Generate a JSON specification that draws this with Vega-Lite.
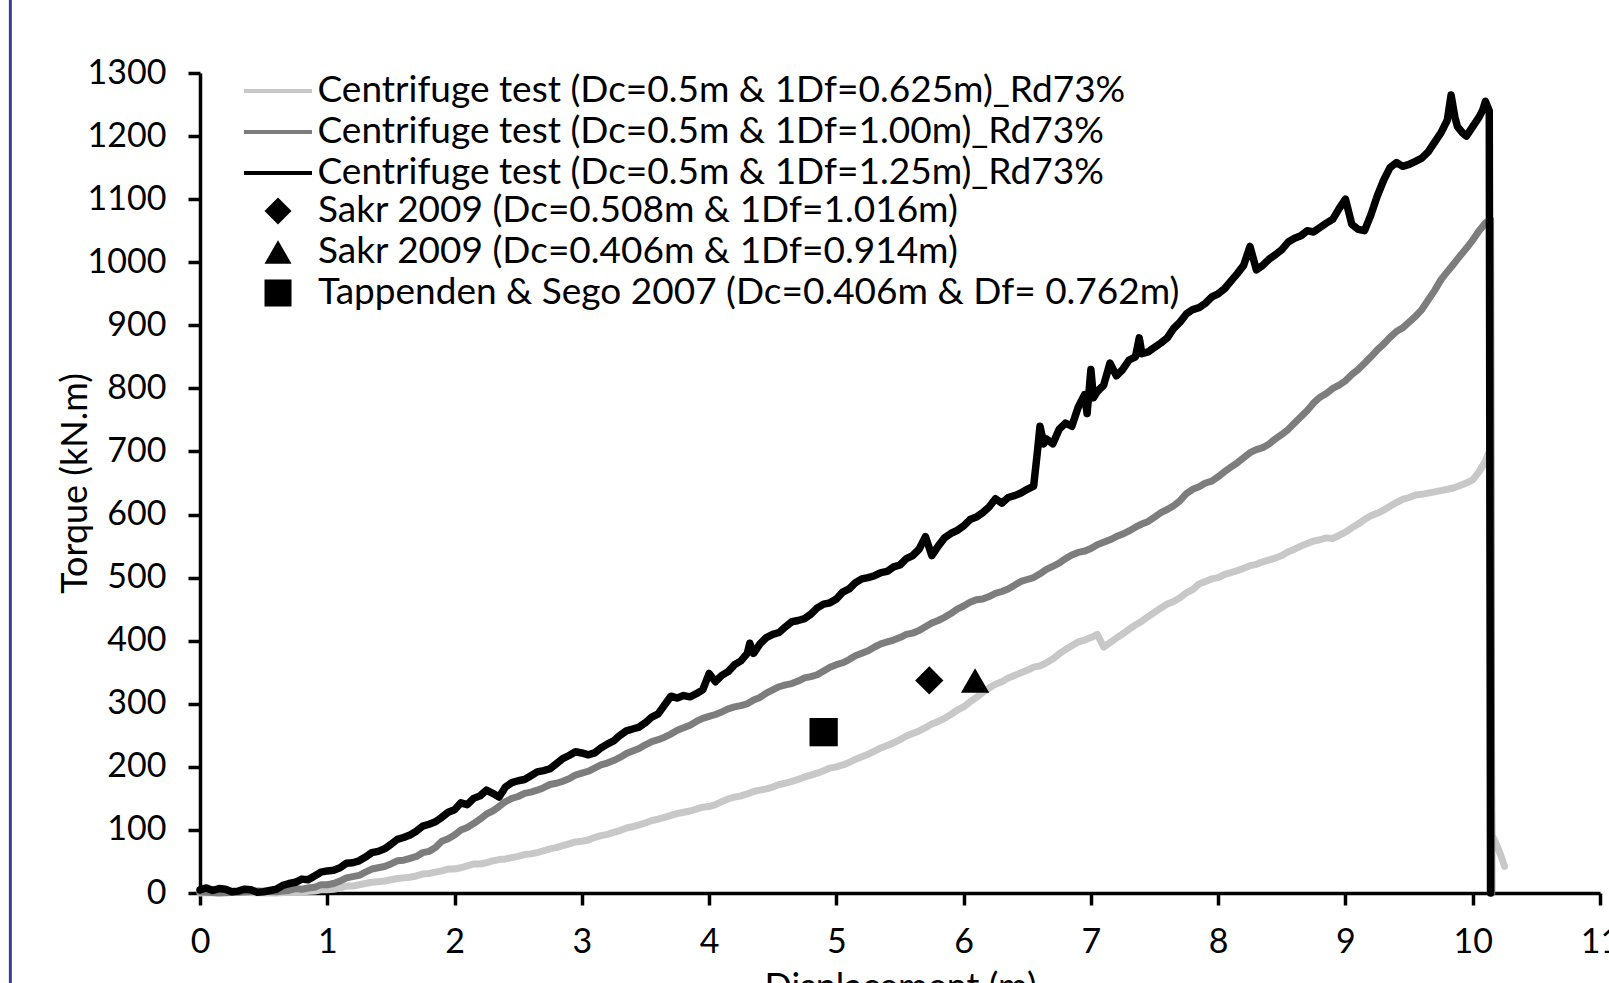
{
 "$schema": "https://vega.github.io/schema/vega-lite/v6.json",
 "width": 1400,
 "height": 820,
 "autosize": {"type": "none"},
 "padding": {"left": 200, "top": 73, "right": 9, "bottom": 90},
 "background": "white",
 "config": {
  "view": {"stroke": null},
  "font": "Lato",
  "axis": {"domainColor": "black", "domainWidth": 3.5, "tickColor": "black", "tickWidth": 3.5, "tickSize": 12, "labelFont": "Lato", "labelFontSize": 34, "labelColor": "black", "titleFont": "Lato", "titleFontSize": 36, "titleFontWeight": "normal", "titleColor": "black", "grid": false},
  "legend": {"labelFont": "Lato", "labelColor": "black", "labelFontSize": 37, "labelLimit": 1300, "padding": 0, "direction": "vertical"}
 },
 "datasets": {
  "light": [
   {"d":0,"t":0},{"d":0.3,"t":1},{"d":0.6,"t":0},{"d":0.7,"t":1},{"d":0.8,"t":2},{"d":0.9,"t":3},{"d":0.95,"t":5},{"d":1.0,"t":5},{"d":1.05,"t":6},{"d":1.1,"t":8},{"d":1.15,"t":11},{"d":1.2,"t":11},{"d":1.25,"t":13},{"d":1.3,"t":15},{"d":1.35,"t":17},{"d":1.4,"t":18},{"d":1.45,"t":19},{"d":1.5,"t":21},{"d":1.55,"t":23},{"d":1.6,"t":24},{"d":1.65,"t":25},{"d":1.7,"t":27},{"d":1.75,"t":30},{"d":1.8,"t":31},{"d":1.85,"t":33},{"d":1.9,"t":35},{"d":1.95,"t":38},{"d":2.0,"t":38},{"d":2.05,"t":40},{"d":2.1,"t":43},{"d":2.15,"t":46},{"d":2.2,"t":46},{"d":2.25,"t":48},{"d":2.3,"t":51},{"d":2.35,"t":53},{"d":2.4,"t":54},{"d":2.45,"t":56},{"d":2.5,"t":58},{"d":2.55,"t":61},{"d":2.6,"t":62},{"d":2.65,"t":64},{"d":2.7,"t":67},{"d":2.75,"t":70},{"d":2.8,"t":72},{"d":2.85,"t":75},{"d":2.9,"t":78},{"d":2.95,"t":81},{"d":3.0,"t":82},{"d":3.05,"t":84},{"d":3.1,"t":88},{"d":3.15,"t":91},{"d":3.2,"t":93},{"d":3.25,"t":96},{"d":3.3,"t":99},{"d":3.35,"t":103},{"d":3.4,"t":105},{"d":3.45,"t":108},{"d":3.5,"t":111},{"d":3.55,"t":115},{"d":3.6,"t":117},{"d":3.65,"t":120},{"d":3.7,"t":123},{"d":3.75,"t":126},{"d":3.8,"t":128},{"d":3.85,"t":130},{"d":3.9,"t":133},{"d":3.95,"t":136},{"d":4.0,"t":137},{"d":4.05,"t":140},{"d":4.1,"t":145},{"d":4.15,"t":149},{"d":4.2,"t":152},{"d":4.25,"t":154},{"d":4.3,"t":157},{"d":4.35,"t":161},{"d":4.4,"t":163},{"d":4.45,"t":165},{"d":4.5,"t":168},{"d":4.55,"t":172},{"d":4.6,"t":174},{"d":4.65,"t":177},{"d":4.7,"t":180},{"d":4.75,"t":184},{"d":4.8,"t":187},{"d":4.85,"t":190},{"d":4.9,"t":194},{"d":4.95,"t":198},{"d":5.0,"t":200},{"d":5.05,"t":203},{"d":5.1,"t":207},{"d":5.15,"t":212},{"d":5.2,"t":216},{"d":5.25,"t":220},{"d":5.3,"t":225},{"d":5.35,"t":230},{"d":5.4,"t":234},{"d":5.45,"t":238},{"d":5.5,"t":243},{"d":5.55,"t":249},{"d":5.6,"t":253},{"d":5.65,"t":257},{"d":5.7,"t":262},{"d":5.75,"t":268},{"d":5.8,"t":272},{"d":5.85,"t":277},{"d":5.9,"t":283},{"d":5.95,"t":290},{"d":6.0,"t":295},{"d":6.05,"t":303},{"d":6.1,"t":310},{"d":6.15,"t":318},{"d":6.2,"t":325},{"d":6.25,"t":331},{"d":6.3,"t":335},{"d":6.35,"t":341},{"d":6.4,"t":345},{"d":6.45,"t":349},{"d":6.5,"t":353},{"d":6.55,"t":358},{"d":6.6,"t":360},{"d":6.65,"t":365},{"d":6.7,"t":371},{"d":6.75,"t":379},{"d":6.8,"t":386},{"d":6.85,"t":392},{"d":6.9,"t":398},{"d":6.95,"t":401},{"d":7.0,"t":405},{"d":7.05,"t":410},{"d":7.1,"t":390},{"d":7.15,"t":397},{"d":7.2,"t":404},{"d":7.25,"t":411},{"d":7.3,"t":418},{"d":7.35,"t":425},{"d":7.4,"t":431},{"d":7.45,"t":438},{"d":7.5,"t":445},{"d":7.55,"t":452},{"d":7.6,"t":458},{"d":7.65,"t":462},{"d":7.7,"t":468},{"d":7.75,"t":476},{"d":7.8,"t":481},{"d":7.85,"t":490},{"d":7.9,"t":494},{"d":7.95,"t":498},{"d":8.0,"t":500},{"d":8.05,"t":505},{"d":8.1,"t":508},{"d":8.15,"t":511},{"d":8.2,"t":515},{"d":8.25,"t":519},{"d":8.3,"t":521},{"d":8.35,"t":525},{"d":8.4,"t":528},{"d":8.45,"t":531},{"d":8.5,"t":535},{"d":8.55,"t":541},{"d":8.6,"t":545},{"d":8.65,"t":550},{"d":8.7,"t":554},{"d":8.75,"t":558},{"d":8.8,"t":560},{"d":8.85,"t":563},{"d":8.9,"t":562},{"d":8.95,"t":567},{"d":9.0,"t":572},{"d":9.05,"t":579},{"d":9.1,"t":585},{"d":9.15,"t":592},{"d":9.2,"t":598},{"d":9.25,"t":602},{"d":9.3,"t":607},{"d":9.35,"t":613},{"d":9.4,"t":619},{"d":9.45,"t":624},{"d":9.5,"t":627},{"d":9.55,"t":631},{"d":9.6,"t":632},{"d":9.65,"t":634},{"d":9.7,"t":636},{"d":9.75,"t":638},{"d":9.8,"t":640},{"d":9.85,"t":642},{"d":9.9,"t":646},{"d":9.95,"t":650},{"d":10.0,"t":655},{"d":10.05,"t":668},{"d":10.1,"t":685},{"d":10.13,"t":700},{"d":10.15,"t":92},{"d":10.18,"t":80},{"d":10.22,"t":60},{"d":10.25,"t":42}
  ],
  "gray": [
   {"d":0,"t":2},{"d":0.15,"t":0},{"d":0.3,"t":1},{"d":0.45,"t":3},{"d":0.6,"t":2},{"d":0.65,"t":3},{"d":0.7,"t":4},{"d":0.75,"t":7},{"d":0.8,"t":6},{"d":0.85,"t":8},{"d":0.9,"t":9},{"d":0.95,"t":13},{"d":1.0,"t":13},{"d":1.05,"t":15},{"d":1.1,"t":19},{"d":1.15,"t":24},{"d":1.2,"t":26},{"d":1.25,"t":28},{"d":1.3,"t":33},{"d":1.35,"t":38},{"d":1.4,"t":40},{"d":1.45,"t":42},{"d":1.5,"t":46},{"d":1.55,"t":51},{"d":1.6,"t":52},{"d":1.65,"t":55},{"d":1.7,"t":58},{"d":1.75,"t":64},{"d":1.8,"t":66},{"d":1.85,"t":72},{"d":1.9,"t":82},{"d":1.95,"t":86},{"d":2.0,"t":92},{"d":2.05,"t":100},{"d":2.1,"t":104},{"d":2.15,"t":110},{"d":2.2,"t":117},{"d":2.25,"t":125},{"d":2.3,"t":130},{"d":2.35,"t":137},{"d":2.4,"t":145},{"d":2.45,"t":150},{"d":2.5,"t":153},{"d":2.55,"t":158},{"d":2.6,"t":160},{"d":2.65,"t":163},{"d":2.7,"t":167},{"d":2.75,"t":172},{"d":2.8,"t":174},{"d":2.85,"t":177},{"d":2.9,"t":181},{"d":2.95,"t":187},{"d":3.0,"t":190},{"d":3.05,"t":193},{"d":3.1,"t":198},{"d":3.15,"t":203},{"d":3.2,"t":206},{"d":3.25,"t":210},{"d":3.3,"t":215},{"d":3.35,"t":221},{"d":3.4,"t":225},{"d":3.45,"t":229},{"d":3.5,"t":235},{"d":3.55,"t":240},{"d":3.6,"t":243},{"d":3.65,"t":247},{"d":3.7,"t":252},{"d":3.75,"t":258},{"d":3.8,"t":262},{"d":3.85,"t":266},{"d":3.9,"t":272},{"d":3.95,"t":277},{"d":4.0,"t":280},{"d":4.05,"t":283},{"d":4.1,"t":287},{"d":4.15,"t":292},{"d":4.2,"t":295},{"d":4.25,"t":297},{"d":4.3,"t":300},{"d":4.35,"t":306},{"d":4.4,"t":310},{"d":4.45,"t":317},{"d":4.5,"t":322},{"d":4.55,"t":327},{"d":4.6,"t":330},{"d":4.65,"t":332},{"d":4.7,"t":336},{"d":4.75,"t":341},{"d":4.8,"t":343},{"d":4.85,"t":346},{"d":4.9,"t":352},{"d":4.95,"t":358},{"d":5.0,"t":362},{"d":5.05,"t":365},{"d":5.1,"t":370},{"d":5.15,"t":376},{"d":5.2,"t":380},{"d":5.25,"t":384},{"d":5.3,"t":390},{"d":5.35,"t":395},{"d":5.4,"t":398},{"d":5.45,"t":401},{"d":5.5,"t":405},{"d":5.55,"t":410},{"d":5.6,"t":412},{"d":5.65,"t":416},{"d":5.7,"t":422},{"d":5.75,"t":428},{"d":5.8,"t":432},{"d":5.85,"t":437},{"d":5.9,"t":443},{"d":5.95,"t":450},{"d":6.0,"t":455},{"d":6.05,"t":461},{"d":6.1,"t":465},{"d":6.15,"t":466},{"d":6.2,"t":470},{"d":6.25,"t":475},{"d":6.3,"t":478},{"d":6.35,"t":482},{"d":6.4,"t":488},{"d":6.45,"t":494},{"d":6.5,"t":497},{"d":6.55,"t":500},{"d":6.6,"t":506},{"d":6.65,"t":513},{"d":6.7,"t":518},{"d":6.75,"t":523},{"d":6.8,"t":530},{"d":6.85,"t":536},{"d":6.9,"t":540},{"d":6.95,"t":542},{"d":7.0,"t":546},{"d":7.05,"t":552},{"d":7.1,"t":556},{"d":7.15,"t":560},{"d":7.2,"t":565},{"d":7.25,"t":569},{"d":7.3,"t":574},{"d":7.35,"t":580},{"d":7.4,"t":585},{"d":7.45,"t":589},{"d":7.5,"t":596},{"d":7.55,"t":603},{"d":7.6,"t":608},{"d":7.65,"t":614},{"d":7.7,"t":622},{"d":7.75,"t":633},{"d":7.8,"t":640},{"d":7.85,"t":644},{"d":7.9,"t":650},{"d":7.95,"t":653},{"d":8.0,"t":660},{"d":8.05,"t":668},{"d":8.1,"t":675},{"d":8.15,"t":682},{"d":8.2,"t":690},{"d":8.25,"t":698},{"d":8.3,"t":703},{"d":8.35,"t":706},{"d":8.4,"t":712},{"d":8.45,"t":720},{"d":8.5,"t":727},{"d":8.55,"t":735},{"d":8.6,"t":745},{"d":8.65,"t":755},{"d":8.7,"t":765},{"d":8.75,"t":777},{"d":8.8,"t":786},{"d":8.85,"t":792},{"d":8.9,"t":800},{"d":8.95,"t":805},{"d":9.0,"t":812},{"d":9.05,"t":822},{"d":9.1,"t":830},{"d":9.15,"t":840},{"d":9.2,"t":850},{"d":9.25,"t":861},{"d":9.3,"t":870},{"d":9.35,"t":881},{"d":9.4,"t":890},{"d":9.45,"t":896},{"d":9.5,"t":905},{"d":9.55,"t":914},{"d":9.6,"t":925},{"d":9.65,"t":940},{"d":9.7,"t":955},{"d":9.75,"t":972},{"d":9.8,"t":985},{"d":9.85,"t":997},{"d":9.9,"t":1010},{"d":9.95,"t":1022},{"d":10.0,"t":1035},{"d":10.05,"t":1050},{"d":10.1,"t":1062},{"d":10.14,"t":1068},{"d":10.15,"t":0}
  ],
  "black": [
   {"d":0,"t":5},{"d":0.05,"t":8},{"d":0.1,"t":4},{"d":0.15,"t":7},{"d":0.2,"t":6},{"d":0.25,"t":2},{"d":0.3,"t":3},{"d":0.35,"t":6},{"d":0.4,"t":5},{"d":0.45,"t":1},{"d":0.5,"t":2},{"d":0.55,"t":4},{"d":0.6,"t":6},{"d":0.65,"t":12},{"d":0.7,"t":15},{"d":0.75,"t":17},{"d":0.8,"t":22},{"d":0.85,"t":21},{"d":0.9,"t":27},{"d":0.95,"t":33},{"d":1.0,"t":35},{"d":1.05,"t":36},{"d":1.1,"t":40},{"d":1.15,"t":47},{"d":1.2,"t":48},{"d":1.25,"t":51},{"d":1.3,"t":57},{"d":1.35,"t":64},{"d":1.4,"t":66},{"d":1.45,"t":70},{"d":1.5,"t":77},{"d":1.55,"t":85},{"d":1.6,"t":88},{"d":1.65,"t":92},{"d":1.7,"t":98},{"d":1.75,"t":106},{"d":1.8,"t":109},{"d":1.85,"t":113},{"d":1.9,"t":120},{"d":1.95,"t":128},{"d":2.0,"t":132},{"d":2.05,"t":143},{"d":2.1,"t":140},{"d":2.15,"t":150},{"d":2.2,"t":154},{"d":2.25,"t":163},{"d":2.3,"t":158},{"d":2.35,"t":152},{"d":2.4,"t":168},{"d":2.45,"t":175},{"d":2.5,"t":178},{"d":2.55,"t":180},{"d":2.6,"t":186},{"d":2.65,"t":192},{"d":2.7,"t":194},{"d":2.75,"t":197},{"d":2.8,"t":205},{"d":2.85,"t":213},{"d":2.9,"t":218},{"d":2.95,"t":224},{"d":3.0,"t":222},{"d":3.05,"t":219},{"d":3.1,"t":222},{"d":3.15,"t":230},{"d":3.2,"t":236},{"d":3.25,"t":241},{"d":3.3,"t":250},{"d":3.35,"t":257},{"d":3.4,"t":260},{"d":3.45,"t":263},{"d":3.5,"t":270},{"d":3.55,"t":279},{"d":3.6,"t":284},{"d":3.65,"t":298},{"d":3.7,"t":312},{"d":3.75,"t":309},{"d":3.8,"t":313},{"d":3.85,"t":311},{"d":3.9,"t":316},{"d":3.95,"t":322},{"d":4.0,"t":348},{"d":4.05,"t":335},{"d":4.1,"t":345},{"d":4.15,"t":351},{"d":4.2,"t":362},{"d":4.25,"t":368},{"d":4.3,"t":380},{"d":4.32,"t":396},{"d":4.35,"t":380},{"d":4.4,"t":395},{"d":4.45,"t":405},{"d":4.5,"t":410},{"d":4.55,"t":413},{"d":4.6,"t":422},{"d":4.65,"t":430},{"d":4.7,"t":432},{"d":4.75,"t":435},{"d":4.8,"t":442},{"d":4.85,"t":452},{"d":4.9,"t":458},{"d":4.95,"t":460},{"d":5.0,"t":466},{"d":5.05,"t":477},{"d":5.1,"t":482},{"d":5.15,"t":492},{"d":5.2,"t":498},{"d":5.25,"t":500},{"d":5.3,"t":503},{"d":5.35,"t":508},{"d":5.4,"t":510},{"d":5.45,"t":517},{"d":5.5,"t":520},{"d":5.55,"t":530},{"d":5.6,"t":535},{"d":5.65,"t":545},{"d":5.7,"t":565},{"d":5.75,"t":535},{"d":5.8,"t":550},{"d":5.85,"t":563},{"d":5.9,"t":570},{"d":5.95,"t":575},{"d":6.0,"t":582},{"d":6.05,"t":592},{"d":6.1,"t":596},{"d":6.15,"t":603},{"d":6.2,"t":612},{"d":6.25,"t":625},{"d":6.3,"t":618},{"d":6.35,"t":627},{"d":6.4,"t":630},{"d":6.45,"t":634},{"d":6.5,"t":640},{"d":6.55,"t":645},{"d":6.58,"t":700},{"d":6.6,"t":740},{"d":6.63,"t":712},{"d":6.65,"t":720},{"d":6.7,"t":712},{"d":6.75,"t":735},{"d":6.8,"t":745},{"d":6.85,"t":740},{"d":6.9,"t":770},{"d":6.95,"t":790},{"d":6.97,"t":760},{"d":7.0,"t":830},{"d":7.02,"t":785},{"d":7.05,"t":795},{"d":7.1,"t":805},{"d":7.15,"t":840},{"d":7.2,"t":820},{"d":7.25,"t":830},{"d":7.3,"t":845},{"d":7.35,"t":850},{"d":7.38,"t":880},{"d":7.4,"t":855},{"d":7.45,"t":858},{"d":7.5,"t":865},{"d":7.55,"t":872},{"d":7.6,"t":880},{"d":7.65,"t":895},{"d":7.7,"t":905},{"d":7.75,"t":918},{"d":7.8,"t":925},{"d":7.85,"t":928},{"d":7.9,"t":935},{"d":7.95,"t":945},{"d":8.0,"t":950},{"d":8.05,"t":958},{"d":8.1,"t":970},{"d":8.15,"t":982},{"d":8.2,"t":995},{"d":8.25,"t":1025},{"d":8.3,"t":988},{"d":8.35,"t":995},{"d":8.4,"t":1005},{"d":8.45,"t":1012},{"d":8.5,"t":1020},{"d":8.55,"t":1032},{"d":8.6,"t":1038},{"d":8.65,"t":1042},{"d":8.7,"t":1050},{"d":8.75,"t":1048},{"d":8.8,"t":1055},{"d":8.85,"t":1062},{"d":8.9,"t":1068},{"d":8.95,"t":1085},{"d":9.0,"t":1100},{"d":9.05,"t":1060},{"d":9.1,"t":1052},{"d":9.15,"t":1050},{"d":9.2,"t":1075},{"d":9.25,"t":1105},{"d":9.3,"t":1130},{"d":9.35,"t":1150},{"d":9.4,"t":1158},{"d":9.45,"t":1152},{"d":9.5,"t":1155},{"d":9.55,"t":1160},{"d":9.6,"t":1165},{"d":9.65,"t":1175},{"d":9.7,"t":1190},{"d":9.75,"t":1205},{"d":9.8,"t":1225},{"d":9.83,"t":1265},{"d":9.86,"t":1230},{"d":9.88,"t":1215},{"d":9.92,"t":1205},{"d":9.95,"t":1200},{"d":10.0,"t":1215},{"d":10.05,"t":1230},{"d":10.08,"t":1242},{"d":10.1,"t":1255},{"d":10.13,"t":1240},{"d":10.14,"t":0}
  ],
  "points": [
   {"src": "Sakr 2009 (Dc=0.508m & 1Df=1.016m)", "d": 5.73, "t": 337},
   {"src": "Sakr 2009 (Dc=0.406m & 1Df=0.914m)", "d": 6.09, "t": 337},
   {"src": "Tappenden & Sego 2007 (Dc=0.406m & Df= 0.762m)", "d": 4.90, "t": 255}
  ],
  "frame": [
   {"edge": -1.49, "top": 1420, "bottom": -150}
  ]
 },
 "encoding": {
  "x": {"field": "d", "type": "quantitative", "title": "Displacement (m)",
   "scale": {"domain": [0, 11], "nice": false, "zero": false},
   "axis": {"values": [0,1,2,3,4,5,6,7,8,9,10,11], "format": "d", "labelFlush": false, "labelOverlap": false, "labelPadding": 20, "titleX": 700, "titleY": 105, "titleAlign": "center", "titleBaseline": "alphabetic"}},
  "y": {"field": "t", "type": "quantitative", "title": "Torque (kN.m)",
   "scale": {"domain": [0, 1300], "nice": false},
   "axis": {"values": [0,100,200,300,400,500,600,700,800,900,1000,1100,1200,1300], "format": "d", "labelOverlap": false, "labelPadding": 22, "titleX": -114, "titleY": 410, "titleAngle": -90, "titleAlign": "center", "titleBaseline": "alphabetic"}}
 },
 "layer": [
  {
   "data": {"name": "frame"},
   "mark": {"type": "rule", "color": "#3b3b9e", "strokeWidth": 3, "clip": false},
   "encoding": {
    "x": {"field": "edge", "type": "quantitative", "title": "Displacement (m)"},
    "y": {"field": "top", "type": "quantitative", "title": "Torque (kN.m)"},
    "y2": {"field": "bottom"}
   }
  },
  {
   "data": {"name": "light"},
   "mark": {"type": "line", "strokeWidth": 7, "strokeJoin": "round", "strokeCap": "round"},
   "encoding": {
    "color": {"datum": "Centrifuge test (Dc=0.5m & 1Df=0.625m)_Rd73%", "type": "nominal",
     "scale": {"domain": ["Centrifuge test (Dc=0.5m & 1Df=0.625m)_Rd73%", "Centrifuge test (Dc=0.5m & 1Df=1.00m)_Rd73%", "Centrifuge test (Dc=0.5m & 1Df=1.25m)_Rd73%"], "range": ["#c8c8c8", "#7d7d7d", "#000000"]},
     "legend": {"orient": "none", "legendX": 59.5, "legendY": -0.5, "title": null, "symbolType": "M-4,0H4", "symbolSize": 289, "symbolStrokeWidth": 4, "labelOffset": 21, "rowPadding": 3}}
   }
  },
  {
   "data": {"name": "gray"},
   "mark": {"type": "line", "strokeWidth": 7, "strokeJoin": "round", "strokeCap": "round"},
   "encoding": {
    "color": {"datum": "Centrifuge test (Dc=0.5m & 1Df=1.00m)_Rd73%", "type": "nominal"}
   }
  },
  {
   "data": {"name": "black"},
   "mark": {"type": "line", "strokeWidth": 7.5, "strokeJoin": "round", "strokeCap": "round"},
   "encoding": {
    "color": {"datum": "Centrifuge test (Dc=0.5m & 1Df=1.25m)_Rd73%", "type": "nominal"}
   }
  },
  {
   "data": {"name": "points"},
   "mark": {"type": "point", "filled": true, "opacity": 1, "size": 800, "color": "black"},
   "encoding": {
    "shape": {"field": "src", "type": "nominal",
     "scale": {"domain": ["Sakr 2009 (Dc=0.508m & 1Df=1.016m)", "Sakr 2009 (Dc=0.406m & 1Df=0.914m)", "Tappenden & Sego 2007 (Dc=0.406m & Df= 0.762m)"], "range": ["diamond", "triangle-up", "square"]},
     "legend": {"orient": "none", "legendX": 59.5, "legendY": 119.5, "title": null, "symbolSize": 730, "symbolFillColor": "black", "symbolStrokeColor": "black", "symbolStrokeWidth": 0, "symbolOpacity": 1, "labelOffset": 21.5, "rowPadding": 3}}
   }
  }
 ]
}
